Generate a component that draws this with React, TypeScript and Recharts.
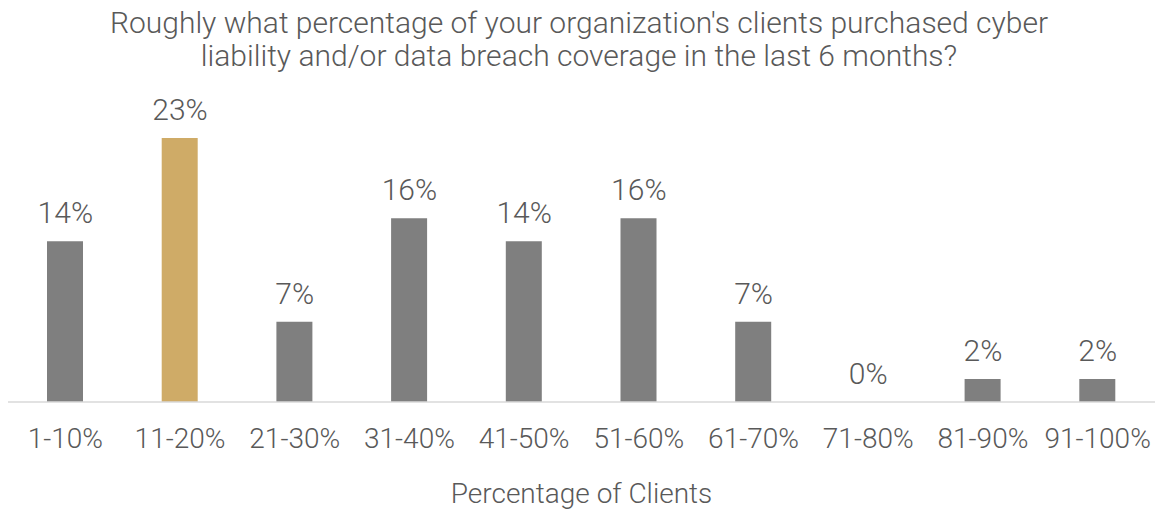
import {
  Bar,
  Cell,
  ComposedChart,
  LabelList,
  Line,
  XAxis,
  YAxis,
} from "recharts";

const categories = [
  "1-10%",
  "11-20%",
  "21-30%",
  "31-40%",
  "41-50%",
  "51-60%",
  "61-70%",
  "71-80%",
  "81-90%",
  "91-100%",
];
const shares = [14, 23, 7, 16, 14, 16, 7, 0, 2, 2];
const highlighted = "11-20%";

const titleLines = [
  "Roughly what percentage of your organization's clients purchased cyber",
  "liability and/or data breach coverage in the last 6 months?",
];
const axisTitle = "Percentage of Clients";

const TEXT = "#595959";
const GREY = "#7f7f7f";
const GOLD = "#cfab67";

const data = categories.map((name, i) => ({ name, value: shares[i] }));

export default function App() {
  return (
    <div
      style={{
        position: "absolute",
        left: 0,
        top: 0,
        width: 1158,
        height: 513,
        fontFamily: "Roboto, sans-serif",
        background: "#fff",
      }}
    >
      <div
        style={{
          position: "absolute",
          top: 6,
          left: 0,
          width: 1158,
          textAlign: "center",
          fontSize: 30,
          fontWeight: 300,
          lineHeight: "33px",
          color: TEXT,
        }}
      >
        {titleLines.map((line) => (
          <div key={line}>{line}</div>
        ))}
      </div>
      <ComposedChart
        width={1158}
        height={513}
        data={data}
        margin={{ top: 115, right: 3, bottom: 0, left: 8 }}
      >
        <YAxis hide domain={[0, 25]} />
        <XAxis
          dataKey="name"
          height={111}
          tickLine={false}
          tickSize={0}
          tickMargin={26}
          interval={0}
          axisLine={{ stroke: "#d9d9d9", strokeWidth: 1.5 }}
          tick={{ fill: TEXT, fontSize: 28, fontWeight: 300 }}
          label={{
            value: axisTitle,
            position: "insideBottom",
            offset: 10,
            fill: TEXT,
            fontSize: 28,
            fontWeight: 300,
          }}
        />
        <Bar dataKey="value" barSize={36} isAnimationActive={false}>
          {data.map((d) => (
            <Cell key={d.name} fill={d.name === highlighted ? GOLD : GREY} />
          ))}
        </Bar>
        {/* invisible line only carries the value labels, so 0% gets one too */}
        <Line
          dataKey="value"
          stroke="none"
          dot={false}
          activeDot={false}
          legendType="none"
          isAnimationActive={false}
        >
          <LabelList
            dataKey="value"
            position="top"
            offset={18}
            formatter={(v: number) => `${v}%`}
            style={{ fill: TEXT, fontSize: 30, fontWeight: 300 }}
          />
        </Line>
      </ComposedChart>
    </div>
  );
}
